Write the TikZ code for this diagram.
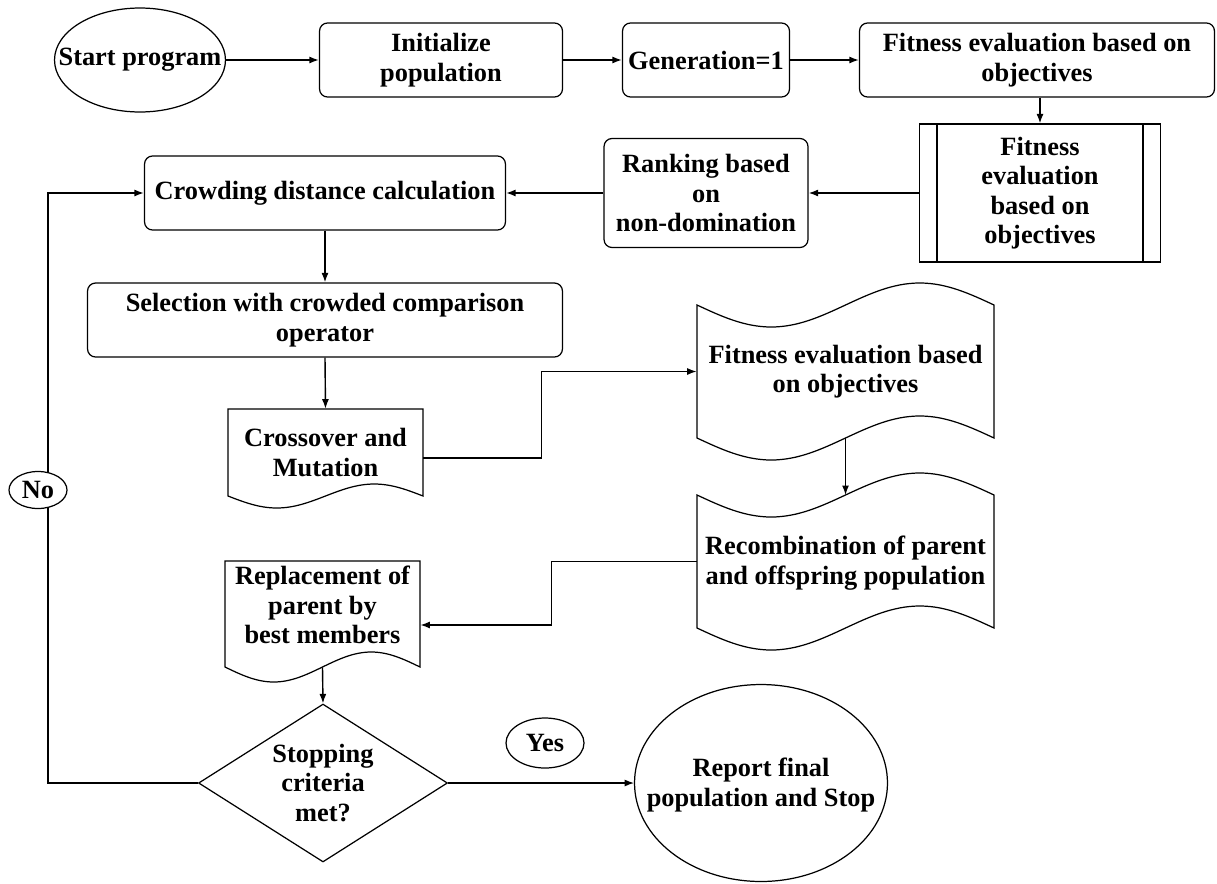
\documentclass[tikz,border=0pt]{standalone}
\usepackage{fontspec}
\setmainfont{Liberation Serif}
\usetikzlibrary{shapes.geometric,arrows.meta,calc}
\begin{document}
\begin{tikzpicture}[x=0.02cm,y=-0.02cm,
  font=\bfseries\fontsize{15}{16.8}\selectfont,
  every node/.style={align=center, inner sep=0pt, text=black},
  shapeline/.style={draw=black, line width=0.7pt},
  arr/.style={draw=black, line width=0.8pt, -{Latex[length=1.9mm,width=1.4mm]}},
  conn/.style={draw=black, line width=0.8pt},
  rbox/.style={rectangle, draw=black, line width=0.7pt, rounded corners=0.16cm},
  oval/.style={ellipse, draw=black, line width=0.7pt, fill=white},
  plain/.style={rectangle, draw=none},
]
\useasboundingbox (0,0) rectangle (1217,883);

% ---- top row
\node[plain, minimum width=3.42cm, minimum height=2.08cm] (start) at (140,60) {Start program};
\draw[shapeline] (start.center) ellipse [x radius=1.71cm, y radius=1.04cm];
\node[rbox, minimum width=4.86cm, minimum height=1.48cm] (init) at (441,60) {Initialize\\population};
\node[rbox, minimum width=3.34cm, minimum height=1.48cm] (gen) at (706,60) {Generation=1};
\node[rbox, minimum width=7.1cm, minimum height=1.48cm] (fit1) at (1037,60) {Fitness evaluation based on\\objectives};

% ---- second row
\node[rectangle, draw=black, line width=0.7pt, minimum width=4.82cm, minimum height=2.76cm] (proc) at (1040,193) {Fitness\\evaluation\\based on\\objectives};
\draw[shapeline] ([xshift=0.36cm]proc.north west) -- ([xshift=0.36cm]proc.south west);
\draw[shapeline] ([xshift=-0.36cm]proc.north east) -- ([xshift=-0.36cm]proc.south east);
\node[rbox, minimum width=4.08cm, minimum height=2.18cm] (rank) at (706,193) {Ranking based\\on\\non-domination};
\node[rbox, minimum width=7.22cm, minimum height=1.48cm] (crowd) at (325,193) {Crowding distance calculation};

% ---- selection
\node[rbox, minimum width=9.5cm, minimum height=1.48cm] (sel) at (325,320) {Selection with crowded comparison\\operator};

% ---- crossover (document)
\draw[shapeline] (228,409) -- (228,496) sin (276.75,508) cos (325.5,496) sin (374.25,484) cos (423,496) -- (423,409) -- cycle;
\node[plain, minimum width=3.9cm, minimum height=1.74cm] (cross) at (325.5,452.5) {Crossover and\\Mutation};

% ---- tape 1
\draw[shapeline] (697,305) sin (771.25,327) cos (845.5,305) sin (919.75,283) cos (994,305)
  -- (994,438) sin (919.75,416) cos (845.5,438) sin (771.25,460) cos (697,438) -- cycle;
\node[plain, minimum width=5.94cm, minimum height=2.66cm] (tape1) at (845.5,371.5) {Fitness evaluation based\\on objectives};

% ---- tape 2
\draw[shapeline] (697,495) sin (771.25,517) cos (845.5,495) sin (919.75,473) cos (994,495)
  -- (994,628) sin (919.75,606) cos (845.5,628) sin (771.25,650) cos (697,628) -- cycle;
\node[plain, minimum width=5.94cm, minimum height=2.66cm] (tape2) at (845.5,563) {Recombination of parent\\and offspring population};

% ---- replacement (document)
\draw[shapeline] (225,561) -- (225,667) sin (273.75,682) cos (322.5,667) sin (371.25,652) cos (420,667) -- (420,561) -- cycle;
\node[plain, minimum width=3.9cm, minimum height=1.76cm] (repl) at (322.5,605) {Replacement of\\parent by\\best members};

% ---- decision
\node[diamond, draw=black, line width=0.7pt, shape aspect=1.576, minimum width=4.98cm, minimum height=3.16cm] (stop) at (323,783) {Stopping\\criteria\\met?};

% ---- report
\node[plain, minimum width=5.06cm, minimum height=3.94cm] (report) at (761,785) {Report final\\population and Stop};
\draw[shapeline] (761,783) ellipse [x radius=2.53cm, y radius=1.97cm];

% ---- connectors
\draw[arr] (start.east) -- (init.west);
\draw[arr] (init.east) -- (gen.west);
\draw[arr] (gen.east) -- (fit1.west);
\draw[arr] (proc.north |- fit1.south) -- (proc.north);
\draw[arr] (proc.west) -- (rank.east);
\draw[arr] (rank.west) -- (crowd.east);
\draw[arr] (crowd.south) -- (sel.north);
\draw[arr] (sel.south) -- (cross.north);
\draw[arr] ([yshift=-0.11cm]cross.east) -- ++(118,0) |- (tape1.west);
\draw[arr] (tape1.south) -- (845.5,495);
\draw[arr] ([yshift=0.03cm]tape2.west) -- ++(-145,0) |- ([yshift=-0.4cm]repl.east);
\draw[arr] ([yshift=-0.36cm]repl.south) -- (stop.north);
\draw[arr] (stop.east) -- (report.west |- stop.east);
\draw[arr] (stop.west) -- ++(-150,0) |- (crowd.west);

% ---- labels
\node[oval, minimum width=1.16cm, minimum height=0.74cm] (no) at (38,490) {No};
\node[oval, fill=none, minimum width=1.56cm, minimum height=1.0cm] (yes) at (545,743) {Yes};
\end{tikzpicture}
\end{document}
